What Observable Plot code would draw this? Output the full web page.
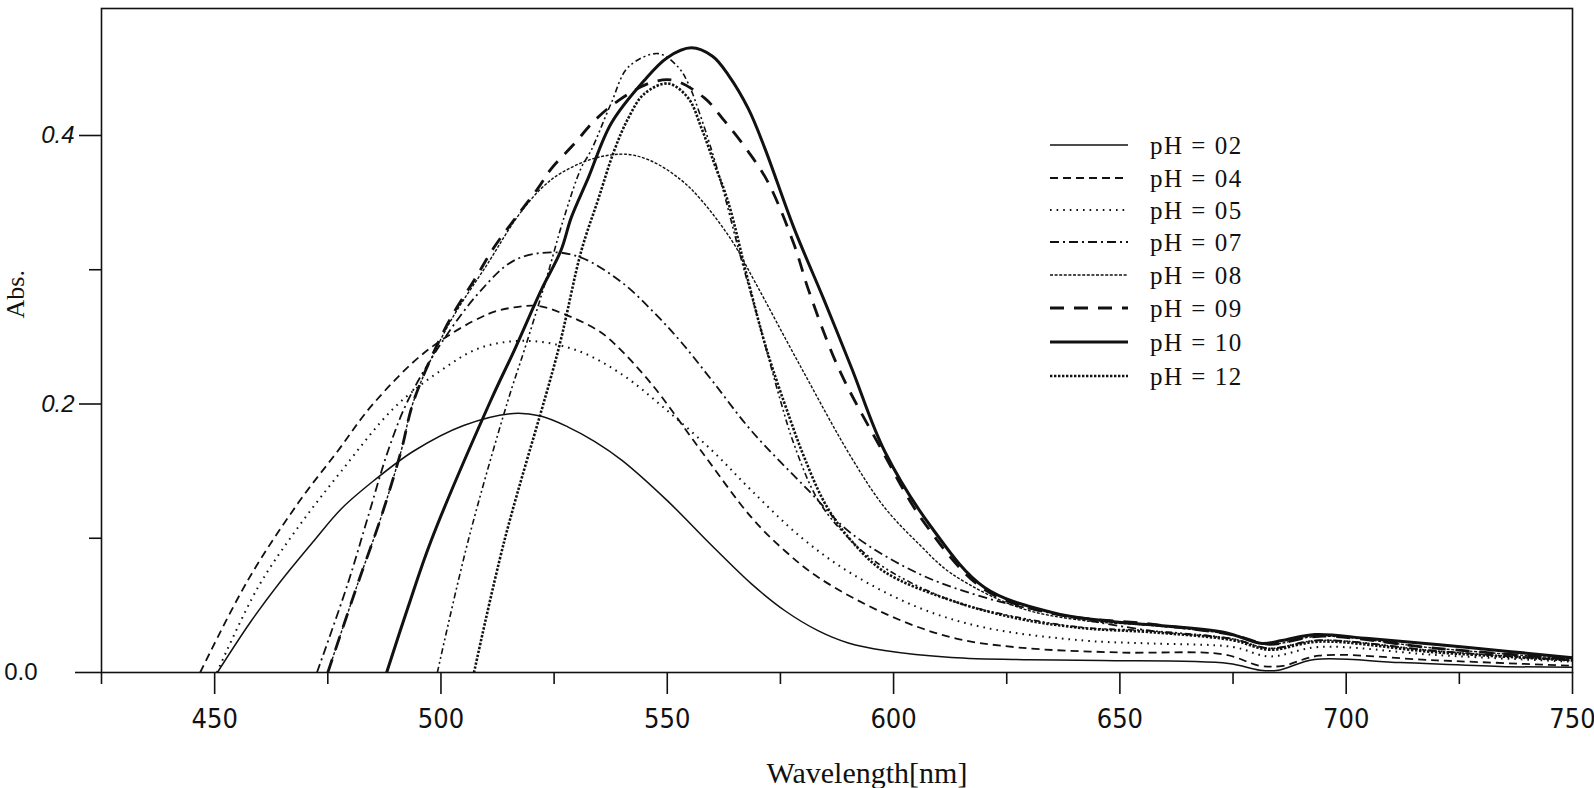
<!DOCTYPE html>
<html>
<head>
<meta charset="utf-8">
<script src="https://cdn.jsdelivr.net/npm/d3@7"></script>
<script src="https://cdn.jsdelivr.net/npm/@observablehq/plot@0.6"></script>
<style>
  html, body { margin: 0; padding: 0; background: #fff; }
  #chart { position: relative; width: 1594px; height: 788px; }
</style>
</head>
<body>
<div id="chart"></div>
<script>
// ---- Data (wavelength in nm, absorbance) ----
const pH02_wl  = [450.6, 458, 464.6, 471.9, 478, 485.2, 494, 505, 516, 522, 528, 534, 540, 550, 560, 568.6, 576, 583.4, 590, 598, 612.8, 630, 646, 674, 681, 685, 693, 712, 734, 750];
const pH02_abs = [0, 0.038, 0.068, 0.098, 0.122, 0.143, 0.165, 0.184, 0.193, 0.191, 0.183, 0.172, 0.158, 0.128, 0.094, 0.066, 0.046, 0.031, 0.022, 0.0164, 0.0112, 0.0095, 0.0089, 0.0067, 0.0017, 0.0017, 0.0097, 0.0074, 0.0045, 0.004];

const pH04_wl  = [446.8, 457.3, 468.4, 477.2, 485, 497, 510.4, 516.2, 521.5, 527.2, 534.7, 538.3, 546.5, 557.5, 568.6, 575.9, 583.4, 598, 612.8, 627.7, 649.8, 673, 681, 686, 694, 720, 750];
const pH04_abs = [0, 0.0685, 0.126, 0.165, 0.2, 0.24, 0.267, 0.272, 0.273, 0.267, 0.2548, 0.245, 0.215, 0.165, 0.1155, 0.0909, 0.0708, 0.044, 0.0261, 0.0186, 0.0149, 0.0135, 0.005, 0.005, 0.0125, 0.009, 0.005];

const pH05_wl  = [450.5, 459.5, 468.4, 478, 489.6, 500, 508.8, 519, 530, 540, 550, 560, 568.6, 579.6, 590.7, 605.5, 620.1, 642, 657, 675, 683, 694, 720, 750];
const pH05_abs = [0, 0.063, 0.108, 0.15, 0.197, 0.225, 0.242, 0.247, 0.24, 0.222, 0.195, 0.165, 0.1356, 0.1006, 0.0737, 0.0484, 0.0335, 0.0238, 0.0216, 0.019, 0.012, 0.019, 0.013, 0.008];

const pH07_wl  = [472.6, 479.4, 483.8, 488.3, 492.7, 500, 508.8, 516.2, 524.3, 531, 539.8, 547.1, 553.1, 560, 568.6, 581.2, 590.7, 605.5, 620.1, 635, 657, 675, 683, 694, 720, 750];
const pH07_abs = [0, 0.066, 0.115, 0.165, 0.2026, 0.245, 0.2845, 0.307, 0.313, 0.309, 0.291, 0.268, 0.246, 0.217, 0.18, 0.1356, 0.1035, 0.0737, 0.0559, 0.044, 0.031, 0.025, 0.018, 0.024, 0.016, 0.009];

const pH08_wl  = [475, 481.6, 486.7, 491.2, 494, 501.5, 510.4, 517, 522, 526.5, 533.9, 541, 546.5, 553, 557.5, 564.2, 569.2, 579.6, 590.7, 598, 605.5, 612.8, 627.7, 642, 657, 675, 683, 694, 720, 750];
const pH08_abs = [0, 0.066, 0.115, 0.165, 0.2026, 0.258, 0.305, 0.34, 0.36, 0.372, 0.383, 0.386, 0.381, 0.367, 0.352, 0.322, 0.292, 0.227, 0.16, 0.123, 0.096, 0.0737, 0.0484, 0.0387, 0.035, 0.028, 0.021, 0.027, 0.018, 0.010];

const pH09_wl  = [475, 481.6, 486.7, 491.2, 494, 501.5, 507.3, 512, 517.7, 521.5, 524.3, 529.5, 533.9, 539.2, 546.5, 551.5, 558.2, 562.6, 567.9, 572.3, 578.1, 581.2, 587.8, 596.7, 606.9, 620, 635, 657, 675, 683, 694, 720, 750];
const pH09_abs = [0, 0.066, 0.115, 0.165, 0.2026, 0.26, 0.292, 0.318, 0.344, 0.361, 0.375, 0.394, 0.411, 0.426, 0.4395, 0.441, 0.428, 0.411, 0.388, 0.365, 0.318, 0.285, 0.227, 0.17, 0.111, 0.062, 0.044, 0.036, 0.028, 0.021, 0.027, 0.018, 0.010];

const pH10_wl  = [488, 492.7, 497.8, 511, 516.2, 522.1, 526.5, 528.8, 532.5, 537.6, 544.9, 550, 555.3, 560, 563.5, 567.9, 571.5, 578, 584.7, 590.7, 598, 608.4, 620.1, 635, 646, 657, 673.2, 681.4, 685.8, 693.1, 705, 727, 750];
const pH10_abs = [0, 0.0484, 0.098, 0.2026, 0.24, 0.2845, 0.3143, 0.339, 0.368, 0.409, 0.441, 0.458, 0.4653, 0.459, 0.445, 0.42, 0.391, 0.331, 0.277, 0.227, 0.165, 0.108, 0.0633, 0.0447, 0.0387, 0.0355, 0.0298, 0.0216, 0.0238, 0.0283, 0.0253, 0.0186, 0.011];

const pH12_wl  = [507.3, 514, 525.9, 531, 534.7, 538.3, 541.4, 544.9, 550.2, 554.6, 557.5, 560.4, 563.5, 568, 572, 577, 580.3, 585, 590.7, 598, 612.8, 627.7, 642, 657, 675, 683, 694, 720, 750];
const pH12_abs = [0, 0.098, 0.24, 0.314, 0.352, 0.389, 0.413, 0.431, 0.4387, 0.428, 0.406, 0.379, 0.35, 0.29, 0.24, 0.19, 0.16, 0.125, 0.098, 0.075, 0.0536, 0.04, 0.033, 0.03, 0.024, 0.017, 0.023, 0.015, 0.009];

// extra curve drawn in the figure (dash-dot-dot), not listed in the legend
const extra_wl  = [499.2, 506, 514.8, 518.4, 523, 527.2, 531, 533.2, 537.6, 541.4, 548, 552.4, 554.6, 557.5, 561.3, 566.4, 570, 575, 578, 583.4, 590.7, 598, 612.8, 627.7, 642, 657, 675, 683, 694, 720, 750];
const extra_abs = [0, 0.098, 0.2026, 0.24, 0.29, 0.339, 0.376, 0.389, 0.424, 0.451, 0.461, 0.451, 0.439, 0.413, 0.372, 0.307, 0.264, 0.2026, 0.17, 0.128, 0.098, 0.078, 0.0536, 0.041, 0.0335, 0.031, 0.025, 0.018, 0.024, 0.016, 0.009];

const legendLabels = ["pH = 02", "pH = 04", "pH = 05", "pH = 07", "pH = 08", "pH = 09", "pH = 10", "pH = 12"];
const xMajorTicks = [450, 500, 550, 600, 650, 700, 750];
const xMinorTicks = [425, 475, 525, 575, 625, 675, 725];
const yTicksUpright = [0.0];
const yTicksItalic = [0.2, 0.4];
const yMinorTicks = [0.1, 0.3];

// ---- styles ----
const styles = {
  "pH = 02": {stroke: "#111", strokeWidth: 1.5, dash: null},
  "pH = 04": {stroke: "#111", strokeWidth: 1.8, dash: "8,5"},
  "pH = 05": {stroke: "#111", strokeWidth: 2, dash: "1.6,5"},
  "pH = 07": {stroke: "#111", strokeWidth: 1.8, dash: "9,4,2,4"},
  "pH = 08": {stroke: "#111", strokeWidth: 1.4, dash: "3,1.6"},
  "pH = 09": {stroke: "#111", strokeWidth: 2.8, dash: "14,10"},
  "pH = 10": {stroke: "#111", strokeWidth: 3, dash: null},
  "pH = 12": {stroke: "#111", strokeWidth: 2.6, dash: "2.4,1.6"},
  "extra":   {stroke: "#111", strokeWidth: 1.6, dash: "6,3,2,3,2,3"}
};

const seriesList = [
  ["pH = 02", pH02_wl, pH02_abs],
  ["pH = 04", pH04_wl, pH04_abs],
  ["pH = 05", pH05_wl, pH05_abs],
  ["pH = 07", pH07_wl, pH07_abs],
  ["pH = 08", pH08_wl, pH08_abs],
  ["pH = 09", pH09_wl, pH09_abs],
  ["pH = 10", pH10_wl, pH10_abs],
  ["pH = 12", pH12_wl, pH12_abs],
  ["extra", extra_wl, extra_abs]
];

const lineMarks = seriesList.map(([name, wl, ab]) => {
  const data = wl.map((w, i) => ({wl: w, abs: ab[i]}));
  const s = styles[name];
  return Plot.line(data, {
    x: "wl", y: "abs", curve: "catmull-rom",
    stroke: s.stroke, strokeWidth: s.strokeWidth,
    strokeDasharray: s.dash ?? undefined,
    strokeLinecap: "butt"
  });
});

const sansNarrow = "'Liberation Sans Narrow', 'DejaVu Sans Condensed', 'Liberation Sans', Arial, sans-serif";
const sans = "'Liberation Sans', Arial, sans-serif";
const serif = "'Liberation Serif', 'Times New Roman', serif";

const plot = Plot.plot({
  width: 1594,
  height: 788,
  marginLeft: 101,
  marginRight: 22,
  marginTop: 8,
  marginBottom: 116,
  style: {background: "#fff", color: "#111", overflow: "visible"},
  x: {domain: [425, 750]},
  y: {domain: [0, 0.4946]},
  marks: [
    Plot.frame({stroke: "#111", strokeWidth: 1.6}),
    ...lineMarks,
    Plot.axisX({ticks: xMajorTicks, tickSize: 22, tickPadding: 14, tickFormat: d3.format("d"),
      fontSize: 27, fontFamily: sansNarrow, strokeWidth: 1.6, label: null}),
    Plot.axisX({ticks: xMinorTicks, tickSize: 12, tickFormat: () => "", strokeWidth: 1.6, label: null}),
    Plot.axisY({ticks: yTicksUpright, tickSize: 26, tickPadding: 38, tickFormat: d3.format(".1f"),
      fontSize: 24, fontFamily: sans, strokeWidth: 1.6, label: null}),
    Plot.axisY({ticks: yTicksItalic, tickSize: 22, tickPadding: 5, tickFormat: d3.format(".1f"),
      fontSize: 24, fontFamily: sans, fontStyle: "italic", strokeWidth: 1.6, label: null}),
    Plot.axisY({ticks: yMinorTicks, tickSize: 12, tickFormat: () => "", strokeWidth: 1.6, label: null}),
    Plot.text(["Wavelength[nm]"], {frameAnchor: "bottom", dx: 30, dy: 101, text: d => d, fontSize: 30,
      fontFamily: serif, lineAnchor: "middle", fill: "#111"}),
    Plot.text(["Abs."], {frameAnchor: "left", dx: -86, dy: -22, text: d => d, rotate: -90, fontSize: 26,
      fontFamily: serif, lineAnchor: "middle", fill: "#111"})
  ]
});

// ---- legend inside the plot area ----
const svg = d3.select(plot);
const lg = svg.append("g").attr("class", "legend").attr("text-anchor", "start");
const rowY = [145, 178, 210, 242, 275, 308, 342, 376];
legendLabels.forEach((lab, i) => {
  const s = styles[lab];
  lg.append("line")
    .attr("x1", 1050).attr("x2", 1128)
    .attr("y1", rowY[i]).attr("y2", rowY[i])
    .attr("stroke", s.stroke).attr("stroke-width", s.strokeWidth)
    .attr("stroke-dasharray", s.dash);
  lg.append("text")
    .attr("x", 1150).attr("y", rowY[i]).attr("dy", "0.35em")
    .attr("text-anchor", "start")
    .attr("font-family", serif).attr("font-size", 25).attr("letter-spacing", "1.5px")
    .attr("fill", "#111")
    .text(lab);
});

document.getElementById("chart").appendChild(plot);
</script>
</body>
</html>
